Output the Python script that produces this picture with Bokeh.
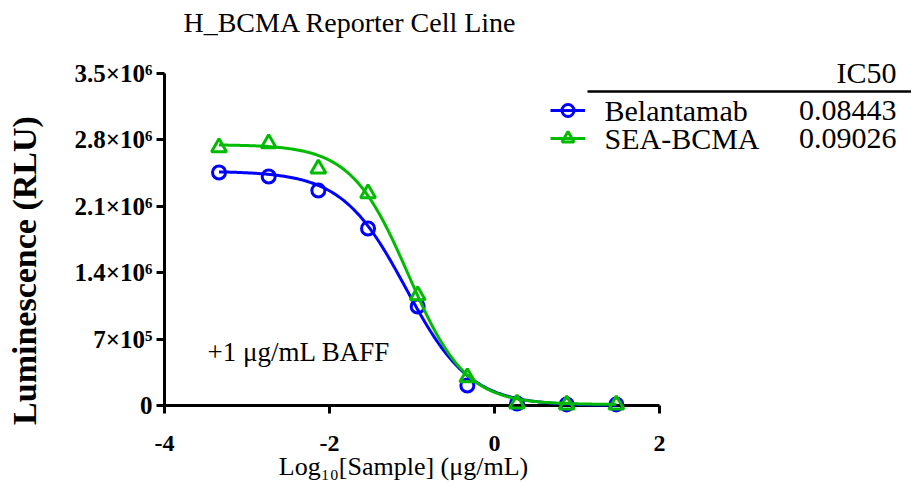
import numpy as np
from bokeh.plotting import figure
from bokeh.models import Label, Legend, LegendItem, FixedTicker, Range1d
from bokeh.embed import file_html
from bokeh.resources import INLINE
from bokeh.core.properties import value

# ---- data ----
log_conc = [-3.339, -2.737, -2.135, -1.533, -0.931, -0.329, 0.273, 0.875, 1.477]
belantamab = [2.456e6, 2.414e6, 2.266e6, 1.866e6, 1.044e6, 0.211e6, 0.021e6, 0.011e6, 0.011e6]
sea_bcma = [2.720e6, 2.762e6, 2.498e6, 2.235e6, 1.160e6, 0.295e6, 0.020e6, 0.010e6, 0.010e6]
series_names = ["Belantamab", "SEA-BCMA"]
ic50 = [0.08443, 0.09026]
# four-parameter logistic fit parameters (top, bottom, hill slope)
fit_top = [2.47e6, 2.75e6]
fit_bottom = [0.0, 0.01e6]
fit_hill = [1.12, 1.25]
y_ticks = [0, 700000, 1400000, 2100000, 2800000, 3500000]
y_tick_labels = ["0", "7×10⁵", "1.4×10⁶", "2.1×10⁶", "2.8×10⁶", "3.5×10⁶"]
x_ticks = [-4, -2, 0, 2]
x_tick_labels = ["-4", "-2", "0", "2"]

BLUE = "#0000FF"
GREEN = "#00BB00"
SERIF = "Liberation Serif"

W, H = 911, 483
LEFT, BOTTOM = 164, 78          # panel sizes in pixels
PX_PER_X = 82.5                 # pixels per log unit
PX_PER_Y = 94.857e-6            # pixels per RLU
x_end = -4 + (W - LEFT) / PX_PER_X
y_end = (H - BOTTOM) / PX_PER_Y

p = figure(width=W, height=H, x_range=Range1d(-4, x_end), y_range=Range1d(0, y_end),
           min_border_left=LEFT, min_border_right=0, min_border_top=0, min_border_bottom=BOTTOM,
           output_backend="svg", toolbar_location=None)
p.outline_line_color = None
p.grid.visible = False

# axes
for ax in (p.xaxis[0], p.yaxis[0]):
    ax.axis_line_width = 3
    ax.major_tick_line_width = 3
    ax.major_tick_out = 8
    ax.major_tick_in = 0
    ax.minor_tick_line_color = None
    ax.major_label_text_font = SERIF
    ax.major_label_text_font_style = "bold"
    ax.major_label_text_color = "black"
    ax.axis_line_color = "black"
    ax.major_tick_line_color = "black"

p.yaxis.ticker = FixedTicker(ticks=y_ticks)
p.yaxis.major_label_overrides = dict(zip(y_ticks, y_tick_labels))
p.yaxis.major_label_text_font_size = "25px"
p.yaxis.major_label_standoff = 4
p.yaxis.bounds = (0, 3.5e6)

p.xaxis.ticker = FixedTicker(ticks=x_ticks)
p.xaxis.major_label_overrides = dict(zip(x_ticks, x_tick_labels))
p.xaxis.major_label_text_font_size = "24px"
p.xaxis.major_label_standoff = 22
p.xaxis.bounds = (-4, 2)

# curves and points
colors = [BLUE, GREEN]
markers = ["circle", "triangle"]
sizes = [13, 15]
values = [belantamab, sea_bcma]
legend_bottoms = [280, 252]     # legend swatch offsets (px above frame bottom)
row_y = [3.110e6, 2.815e6]      # vertical positions of the legend/table rows
xs = np.linspace(min(log_conc), max(log_conc), 300)
for i in range(2):
    logic = np.log10(ic50[i])
    ys = fit_bottom[i] + (fit_top[i] - fit_bottom[i]) / (1 + 10 ** ((xs - logic) * fit_hill[i]))
    lr = p.line(xs, ys, line_color=colors[i], line_width=3, level="overlay")
    sr = p.scatter(log_conc, values[i], marker=markers[i], size=sizes[i],
                   line_color=colors[i], line_width=3, fill_color=None, level="overlay")
    legend = Legend(items=[LegendItem(label=" ", renderers=[lr, sr])],
                    location=(386, legend_bottoms[i]), margin=0, padding=0, spacing=0,
                    glyph_width=35, glyph_height=30, label_standoff=0, label_width=1,
                    label_height=1, label_text_font_size="1px",
                    border_line_color=None, background_fill_alpha=0)
    p.add_layout(legend, "center")
    p.add_layout(Label(x=1.333, y=row_y[i], text=series_names[i], text_align="left",
                       text_baseline="middle", text_font=SERIF, text_font_size="30px",
                       text_color="black"))
    p.add_layout(Label(x=4.873, y=row_y[i], text=f"{ic50[i]:.5f}", text_align="right",
                       text_baseline="middle", text_font=SERIF, text_font_size="30px",
                       text_color="black"))

# IC50 table header and rule
p.add_layout(Label(x=4.873, y=3.51e6, text="IC50", text_align="right", text_baseline="middle",
                   text_font=SERIF, text_font_size="30px", text_color="black"))
p.segment(x0=[1.127], y0=[3.31e6], x1=[x_end], y1=[3.31e6], line_color="black",
          line_width=2.5, level="overlay")

# texts
p.add_layout(Label(x=-3.77, y=4.038e6, text="H_BCMA Reporter Cell Line", text_baseline="middle",
                   text_font=SERIF, text_font_size="28px", text_color="black"))
p.add_layout(Label(x=-3.479, y=0.559e6, text="+1 μg/mL BAFF", text_baseline="middle",
                   text_font=SERIF, text_font_size="27px", text_color="black"))
p.text(x=[-5.697], y=[1.423e6], text=["Luminescence (RLU)"], angle=np.pi / 2,
       text_align="center", text_baseline="middle", text_font=value(SERIF),
       text_font_style="bold", text_font_size="34px", text_color="black", level="overlay")
p.text(x=[-1.103], y=[-0.643e6], text=["Log₁₀[Sample] (μg/mL)"],
       text_align="center", text_baseline="middle", text_font=value(SERIF),
       text_font_size="26px", text_color="black", level="overlay")

open("out.html", "w").write(file_html(p, INLINE))
